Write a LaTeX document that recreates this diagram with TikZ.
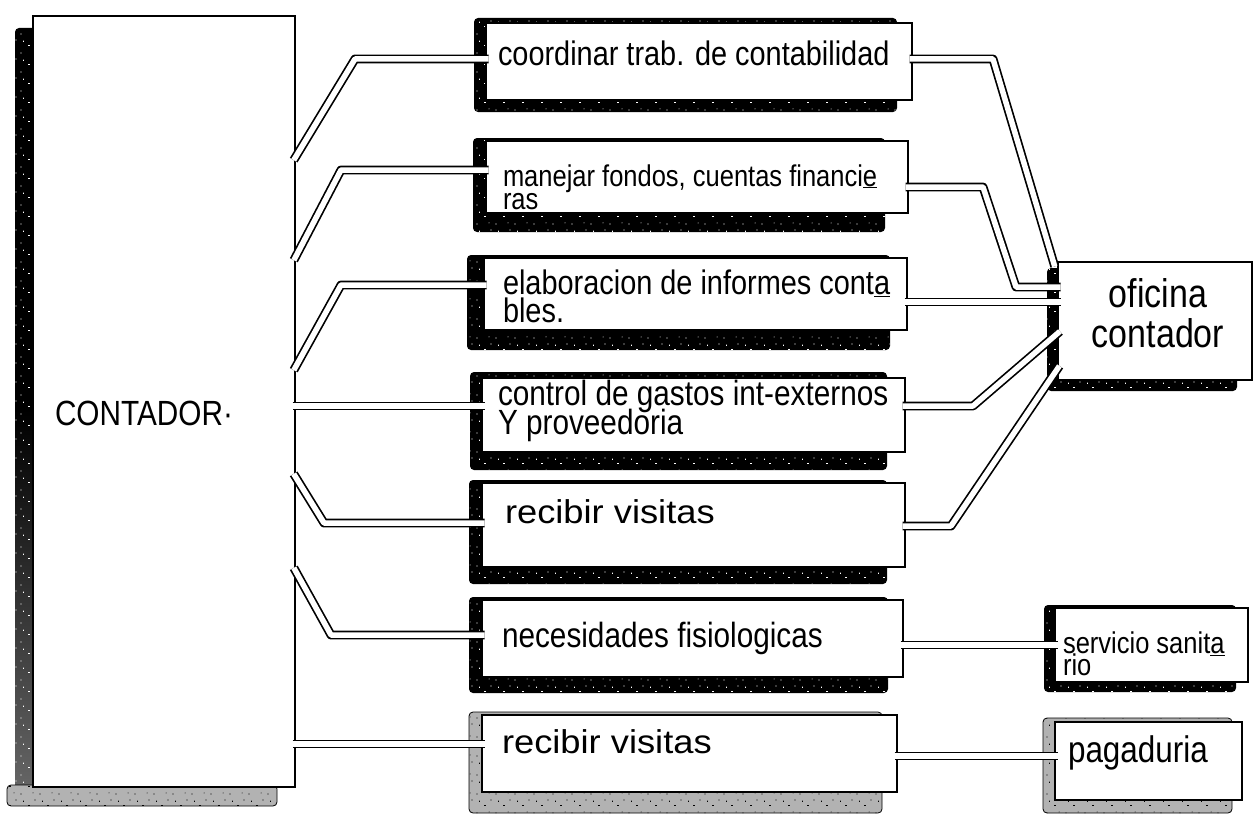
\documentclass[tikz,border=0pt]{standalone}
\usepackage{fontspec}
\setmainfont{Liberation Sans}
\newfontfamily\hand[FakeStretch=0.85]{Liberation Sans}
\newfontfamily\handwide[FakeStretch=1.1]{Liberation Sans}
\usetikzlibrary{patterns}
\pgfdeclarepatternformonly{speckle}{\pgfqpoint{-1pt}{-1pt}}{\pgfqpoint{20pt}{20pt}}{\pgfqpoint{19pt}{19pt}}{%
  \pgfpathcircle{\pgfqpoint{2pt}{3pt}}{0.7pt}%
  \pgfpathrectangle{\pgfqpoint{9pt}{10pt}}{\pgfqpoint{1.8pt}{0.8pt}}%
  \pgfpathcircle{\pgfqpoint{14pt}{4pt}}{0.5pt}%
  \pgfpathrectangle{\pgfqpoint{4pt}{14pt}}{\pgfqpoint{0.8pt}{1.4pt}}%
  \pgfpathcircle{\pgfqpoint{16pt}{16pt}}{0.6pt}%
  \pgfusepath{fill}%
}
\tikzset{
  box/.style={draw=black, line width=1.8pt, fill=white, inner sep=0pt, outer sep=0pt, rectangle},
  pipe/.style={draw=black, line width=1.7pt, double=white, double distance=5.5pt, line join=round, shorten <=-2.5pt, shorten >=-2.5pt},
  shadowD/.style={fill=black, rounded corners=4pt, postaction={pattern=speckle, pattern color=white}},
  shadowL/.style={fill=black!30, draw=black, line width=0.8pt, rounded corners=4pt, postaction={pattern=speckle, pattern color=black}},
  lbl/.style={inner sep=0pt, outer sep=0pt, anchor=base west, align=left, text=black},
}
\begin{document}
\begin{tikzpicture}[x=1pt, y=-1pt]
\useasboundingbox (0,0) rectangle (1258,816);
\fill[white] (0,0) rectangle (1258,816);

% shadows
\shade[top color=black, bottom color=black!60, middle color=black, rounded corners=4pt, postaction={pattern=speckle, pattern color=white}] (15,28) rectangle (36,792);
\path[shadowL] (7,785) rectangle (277,806);
\path[shadowD] (474,18) rectangle (897,112);
\path[shadowD] (473,138) rectangle (885,232);
\path[shadowD] (467,255) rectangle (890,350);
\path[shadowD] (470,372) rectangle (887,470);
\path[shadowD] (469,480) rectangle (887,584);
\path[shadowD] (469,597) rectangle (888,693);
\path[shadowL] (469,712) rectangle (882,813);
\path[shadowD] (1047,268) rectangle (1237,391);
\path[shadowD] (1044,605) rectangle (1236,692);
\path[shadowL] (1043,718) rectangle (1232,813);

% boxes
\node[box, minimum width=262pt, minimum height=771pt] (cont) at (164,401.5) {};
\node[box, minimum width=426pt, minimum height=77pt] (b1) at (699,61.5) {};
\node[box, minimum width=422pt, minimum height=72pt] (b2) at (697,177) {};
\node[box, minimum width=423pt, minimum height=72pt] (b3) at (695.5,294) {};
\node[box, minimum width=423pt, minimum height=74pt] (b4) at (693.5,415) {};
\node[box, minimum width=423pt, minimum height=84pt] (b5) at (693.5,525) {};
\node[box, minimum width=421pt, minimum height=77pt] (b6) at (692.5,638.5) {};
\node[box, minimum width=415pt, minimum height=77pt] (b7) at (689.5,753.5) {};
\node[box, minimum width=194pt, minimum height=118pt] (ofi) at (1155,321) {};
\node[box, minimum width=193pt, minimum height=74pt] (serv) at (1151.5,645) {};
\node[box, minimum width=187pt, minimum height=78pt] (pag) at (1148.5,761) {};

% left connectors
\draw[pipe] (cont.east |- 0,158) -- (355,59) -- (b1.west |- 0,59);
\draw[pipe] (cont.east |- 0,258) -- (341,170) -- (b2.west |- 0,170);
\draw[pipe] (cont.east |- 0,368) -- (341,285) -- (b3.west |- 0,285);
\draw[pipe] (cont.east |- 0,406) -- (b4.west |- 0,406);
\draw[pipe] (cont.east |- 0,476) -- (324,523) -- (b5.west |- 0,523);
\draw[pipe] (cont.east |- 0,570) -- (331,635) -- (b6.west |- 0,635);
\draw[pipe] (cont.east |- 0,744) -- (b7.west |- 0,744);

% right connectors
\draw[pipe] (b1.east |- 0,59) -- (993,59) -- ([xshift=-4pt,yshift=-2pt]ofi.north west);
\draw[pipe] (b2.east |- 0,187) -- (983,187) -- (1016,287) -- (ofi.west |- 0,287);
\draw[pipe] (b3.east |- 0,302) -- (ofi.west |- 0,302);
\draw[pipe] (b4.east |- 0,406) -- (973,406) -- (ofi.west |- 0,333);
\draw[pipe] (b5.east |- 0,526) -- (951,526) -- (ofi.west |- 0,368);
\draw[pipe] (b6.east |- 0,645) -- (serv.west |- 0,645);
\draw[pipe] (b7.east |- 0,756) -- (pag.west |- 0,756);

% labels (multi-line nodes are anchored at the baseline of their last line)
\node[lbl, font=\hand\fontsize{35}{40}\selectfont] (t11) at (55,425) {CONTADOR·};
\node[lbl, font=\hand\fontsize{34}{36}\selectfont] (t1) at (498,66) {coordinar trab. de contabilidad};
\node[lbl, font={\hand\fontsize{30}{23}\selectfont\lineskiplimit=-100pt\lineskip=0pt}] (t2) at (503,209) {manejar fondos, cuentas financi\underline{e}\\ras};
\node[lbl, font={\hand\fontsize{34}{28}\selectfont\lineskiplimit=-100pt\lineskip=0pt}] (t3) at (503,322) {elaboracion de informes cont\underline{a}\\bles.};
\node[lbl, font={\hand\fontsize{35}{29}\selectfont\lineskiplimit=-100pt\lineskip=0pt}] (t4) at (498,434) {control de gastos int-externos\\Y proveedoria};
\node[lbl, font=\handwide\fontsize{33}{36}\selectfont] (t5) at (505,523) {recibir visitas};
\node[lbl, font=\hand\fontsize{35}{38}\selectfont] (t6) at (502,647) {necesidades fisiologicas};
\node[lbl, font=\handwide\fontsize{33}{36}\selectfont] (t7) at (502,753) {recibir visitas};
\node[lbl, anchor=base, align=center, font={\hand\fontsize{40}{40}\selectfont\lineskiplimit=-100pt\lineskip=0pt}] (t8) at (1158,347) {oficina\\contador};
\node[lbl, font={\hand\fontsize{30}{22}\selectfont\lineskiplimit=-100pt\lineskip=0pt}] (t9) at (1063,675) {servicio sanit\underline{a}\\rio};
\node[lbl, font=\hand\fontsize{37}{40}\selectfont] (t10) at (1068,762) {pagaduria};
\end{tikzpicture}
\end{document}
